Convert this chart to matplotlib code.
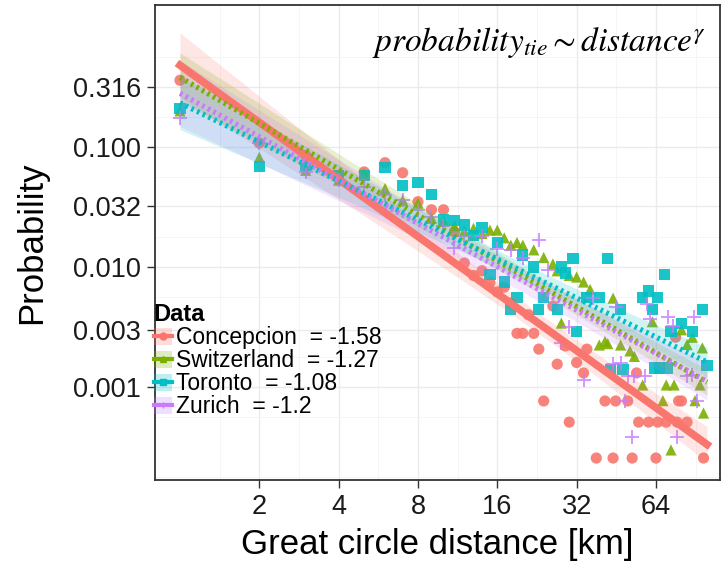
import numpy as np
import matplotlib
matplotlib.use("Agg")
from matplotlib import pyplot as plt
from matplotlib.lines import Line2D
from matplotlib.patches import Patch
from matplotlib.ticker import FixedLocator, NullFormatter

plt.rcParams['font.family'] = ['Liberation Sans', 'DejaVu Sans']
plt.rcParams['mathtext.fontset'] = 'stix'

# ---- data ----
names = ["Concepcion", "Switzerland", "Toronto", "Zurich"]
exponents = [-1.58, -1.27, -1.08, -1.2]
# fitted value at 1 km
intercepts = [0.48, 0.38, 0.233, 0.28]

conc_x = [1, 2, 3, 4, 5, 6, 7, 8, 9, 10, 11, 12, 13, 14, 15, 16, 17, 18, 19, 20,
          21, 22, 23, 24, 26, 27, 29, 30, 32, 34, 35, 38, 41, 44, 45, 50, 52, 54,
          55, 60, 64, 65, 70, 76, 77, 78, 80, 84, 97]
conc_y = [0.36, 0.108, 0.085, 0.058, 0.062, 0.074, 0.061, 0.035, 0.030, 0.030,
          0.0196, 0.0108, 0.0085, 0.0093, 0.0074, 0.0062, 0.0068, 0.0050, 0.0028,
          0.0028, 0.0040, 0.0028, 0.00207, 0.000765, 0.00473, 0.00155, 0.0022,
          0.00051, 0.0016, 0.00131, 0.00207, 0.000256, 0.000765, 0.000256,
          0.000765, 0.000765, 0.000256, 0.00131, 0.00051, 0.00051, 0.000256,
          0.00051, 0.00051, 0.0026, 0.00051, 0.000765, 0.000765, 0.00051, 0.000256]

swi_x = [1, 2, 3, 4, 5, 6, 7, 8, 9, 10, 11, 12, 13, 14, 15, 16, 17, 18, 19, 20,
         22, 24, 26, 27, 28, 30, 32, 34, 36, 39, 41, 42, 44, 47, 51, 53, 57, 62,
         66, 68, 70, 73, 75, 80, 84, 88, 90, 94, 96, 97]
swi_y = [0.20, 0.082, 0.064, 0.053, 0.060, 0.045, 0.036, 0.034, 0.0255, 0.024,
         0.022, 0.020, 0.021, 0.019, 0.0203, 0.0203, 0.0175, 0.0152, 0.016, 0.0152,
         0.0139, 0.012, 0.0106, 0.0093, 0.00341, 0.0085, 0.00825, 0.0075, 0.0065,
         0.00224, 0.0024, 0.0023, 0.0055, 0.00224, 0.0020, 0.0018, 0.00104, 0.0035,
         0.00144, 0.00077, 0.00104, 0.000299, 0.00104, 0.0030, 0.00226, 0.0026,
         0.00077, 0.00104, 0.00212, 0.000607]

tor_x = [1, 2, 3, 4, 5, 6, 7, 8, 9, 10, 11, 12, 13, 14, 15, 16, 17, 18, 19, 20,
         22, 23, 24, 27, 28, 29, 31, 32, 35, 39, 42, 43, 47, 48, 57, 60, 62, 63,
         65, 66, 69, 71, 73, 80, 88, 96, 100]
tor_y = [0.21, 0.069, 0.070, 0.058, 0.058, 0.067, 0.048, 0.051, 0.040, 0.025,
         0.0245, 0.0224, 0.0182, 0.0214, 0.0086, 0.016, 0.0075, 0.0044, 0.0056,
         0.0126, 0.0100, 0.0044, 0.0056, 0.0044, 0.0100, 0.0089, 0.0117, 0.0029,
         0.0056, 0.0056, 0.0117, 0.0014, 0.0044, 0.0014, 0.0056, 0.0063, 0.0044,
         0.00144, 0.0056, 0.00144, 0.0087, 0.00144, 0.0029, 0.0034, 0.0029, 0.0044,
         0.0015]

zur_x = [1, 2, 3, 4, 5, 6, 7, 8, 9, 10, 11, 12, 14, 16, 18, 20, 23, 25, 28, 30,
         34, 37, 44, 45, 47, 49, 50, 52, 53, 58, 59, 61, 71, 74, 77, 84, 88, 89, 92]
zur_y = [0.174, 0.108, 0.062, 0.053, 0.046, 0.040, 0.036, 0.030, 0.026, 0.022,
         0.0144, 0.018, 0.0182, 0.014, 0.0139, 0.012, 0.0168, 0.0095, 0.00233,
         0.00316, 0.00114, 0.0055, 0.00155, 0.00464, 0.0016, 0.00077, 0.00123,
         0.000383, 0.00123, 0.00123, 0.0049, 0.0037, 0.00383, 0.0032, 0.000383,
         0.00123, 0.00125, 0.0038, 0.00077]

xs = [conc_x, swi_x, tor_x, zur_x]
ys = [conc_y, swi_y, tor_y, zur_y]

colors = ["#F8766D", "#7CAE00", "#00BFC4", "#C77CFF"]
markers = ["o", "^", "s", "+"]
styles = ["-", (0, (0.5, 0.7)), (0, (0.5, 0.7)), (0, (0.5, 0.7))]
widths = [5.5, 3.8, 3.8, 3.8]

x_ticks = [2, 4, 8, 16, 32, 64]
y_ticks = [0.001, 0.003, 0.010, 0.032, 0.100, 0.316]
y_tick_labels = ["0.001", "0.003", "0.010", "0.032", "0.100", "0.316"]

# ---- figure ----
fig = plt.figure(figsize=(7.22, 5.74), dpi=100)
ax = fig.add_axes([155 / 722, 1 - 480 / 574, 565 / 722, 475 / 574])
ax.set_xscale("log")
ax.set_yscale("log")
ax.set_xlim(0.804, 112)
ax.set_ylim(1.68e-4, 1.525)

# points
for x, y, c, m in zip(xs, ys, colors, markers):
    if m == "+":
        ax.scatter(x, y, marker=m, s=90, color=c, linewidths=1.3, alpha=0.85, zorder=2)
    else:
        ax.scatter(x, y, marker=m, s=65, color=c, edgecolors="none", alpha=0.9, zorder=2)

# fitted power laws with confidence bands
xf = np.logspace(0, 2, 200)
for x, y, c, g, a, ls, lw in zip(xs, ys, colors, exponents, intercepts, styles, widths):
    lx = np.log10(x)
    ly = np.log10(y)
    res = ly - (np.log10(a) + g * lx)
    s = np.sqrt(np.sum(res ** 2) / (len(lx) - 2))
    sxx = np.sum((lx - lx.mean()) ** 2)
    lxf = np.log10(xf)
    hw = 1.96 * s * np.sqrt(1 / len(lx) + (lxf - lx.mean()) ** 2 / sxx)
    fit = np.log10(a) + g * lxf
    ax.fill_between(xf, 10 ** (fit - hw), 10 ** (fit + hw), color=c, alpha=0.18,
                    linewidth=0, zorder=3)
    ax.plot(xf, 10 ** fit, color=c, linestyle=ls, linewidth=lw, zorder=4)

# axes styling
ax.xaxis.set_major_locator(FixedLocator(x_ticks))
ax.xaxis.set_minor_locator(FixedLocator([2 ** (k + 0.5) for k in range(-1, 7)]))
ax.set_xticklabels([str(t) for t in x_ticks])
ax.xaxis.set_minor_formatter(NullFormatter())
ax.yaxis.set_major_locator(FixedLocator(y_ticks))
ax.yaxis.set_minor_locator(FixedLocator([10 ** (-0.25 - 0.5 * k) for k in range(-1, 8)]))
ax.set_yticklabels(y_tick_labels)
ax.yaxis.set_minor_formatter(NullFormatter())
ax.grid(which="major", color="#EBEBEB", linewidth=1.0, zorder=0)
ax.grid(which="minor", color="#F4F4F4", linewidth=0.6, zorder=0)
ax.set_axisbelow(True)
ax.tick_params(which="major", direction="out", length=6, width=1, color="#333333",
               labelsize=19.5, labelcolor="#1a1a1a", pad=4)
ax.tick_params(which="minor", length=0)
for sp in ax.spines.values():
    sp.set_color("#333333")
    sp.set_linewidth(1.3)

ax.set_xlabel("Great circle distance [km]", fontsize=25, labelpad=6)
ax.set_ylabel("Probability", fontsize=25, labelpad=18)

ax.text(0.975, 0.958, r"$probability_{tie}{\sim}distance^{\gamma}$",
        transform=ax.transAxes, ha="right", va="top", fontsize=24)

# legend
handles = []
labels = []
for n, g, c, m in zip(names, exponents, colors, markers):
    handles.append((Patch(facecolor=c, alpha=0.25, edgecolor="none"),
                    Line2D([], [], color=c, marker=m, markersize=5, linewidth=3)))
    labels.append(f"{n}  = {g:g}")
leg = ax.legend(handles, labels, title="Data", loc="upper left",
                bbox_to_anchor=(-0.002, 0.372), frameon=False, fontsize=16.5,
                title_fontsize=17, handlelength=0.8, handleheight=0.8,
                handletextpad=0.15, labelspacing=0.0, borderpad=0,
                borderaxespad=0, alignment="left")
leg.get_title().set_fontweight("bold")
leg.set_zorder(5)

fig.savefig("out.png", dpi=100)
